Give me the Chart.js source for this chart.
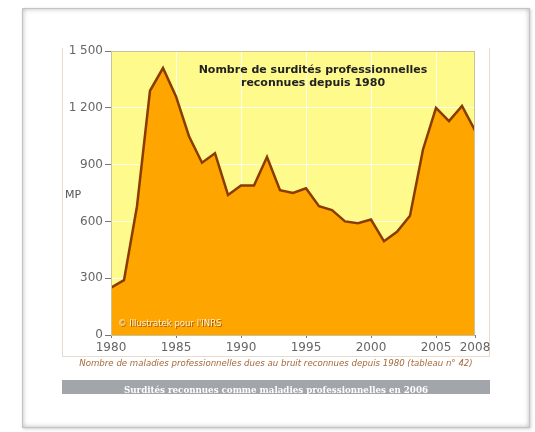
<!DOCTYPE html>
<html>
<head>
<meta charset="utf-8">
<script src="https://cdn.jsdelivr.net/npm/chart.js@4"></script>
<style>
  body { margin: 0; background: #fff; width: 535px; height: 432px; overflow: hidden; position: relative; font-family: "DejaVu Sans", Verdana, sans-serif; }
  #card { position: absolute; left: 22px; top: 8px; width: 506px; height: 418px; border: 1px solid #c4c4c4; box-shadow: inset 0 0 5px rgba(0,0,0,0.28), 1px 1px 3px rgba(0,0,0,0.2); background: #fff; }
  #frame { position: absolute; left: 62px; top: 48px; width: 426px; height: 308px; border: 1px solid #eadbcd; border-top: none; }
  #wrap { position: absolute; left: 0; top: 0; width: 535px; height: 432px; }
  #caption { position: absolute; left: 52px; width: 448px; top: 358px; text-align: center; font-style: italic; font-size: 8.6px; color: #a6683c; white-space: nowrap; }
  #bar { position: absolute; left: 62px; top: 380px; width: 428px; height: 14px; background: #a2a5aa; overflow: hidden; text-align: center; }
  #bar span { display: block; margin-top: 5px; color: #fff; font-weight: bold; font-family: "DejaVu Serif", Georgia, serif; font-size: 8.7px; white-space: nowrap; }
</style>
</head>
<body>
<div id="card"></div>
<div id="frame"></div>
<div id="wrap"><canvas id="chart" width="535" height="432"></canvas></div>
<div id="caption">Nombre de maladies professionnelles dues au bruit reconnues depuis 1980 (tableau n° 42)</div>
<div id="bar"><span>Surdités reconnues comme maladies professionnelles en 2006</span></div>
<script>
// ─── DATA ───────────────────────────────────────────────────────────────────────
var years = [1980, 1981, 1982, 1983, 1984, 1985, 1986, 1987, 1988, 1989,
             1990, 1991, 1992, 1993, 1994, 1995, 1996, 1997, 1998, 1999,
             2000, 2001, 2002, 2003, 2004, 2005, 2006, 2007, 2008];
var cases = [250, 290, 680, 1290, 1410, 1260, 1050, 910, 960, 740,
             790, 790, 940, 765, 750, 775, 680, 660, 600, 590,
             610, 495, 545, 630, 980, 1200, 1130, 1210, 1080];
var xTicks = [1980, 1985, 1990, 1995, 2000, 2005, 2008];
var yTicks = [0, 300, 600, 900, 1200, 1500];
var chartTitle = ["Nombre de surdités professionnelles", "reconnues depuis 1980"];
var yLabel = "MP";
var credit = "© Illustratek pour l'INRS";

// ─── DRAWING HELPERS ────────────────────────────────────────────────────────────
var decorations = {
    id: 'decorations',
    beforeDraw: function (chart) {
        var a = chart.chartArea, ctx = chart.ctx;
        ctx.save();
        ctx.fillStyle = '#fffa8c';
        ctx.fillRect(a.left, a.top, a.right - a.left, a.bottom - a.top);
        ctx.restore();
    },
    afterDatasetsDraw: function (chart) {
        var a = chart.chartArea, ctx = chart.ctx;
        ctx.save();
        // plot border
        ctx.strokeStyle = '#c9c39a';
        ctx.lineWidth = 1;
        ctx.strokeRect(a.left + 0.5, a.top + 0.5, a.right - a.left - 1, a.bottom - a.top);
        // title inside the plot
        ctx.fillStyle = '#222';
        ctx.font = 'bold 11px "DejaVu Sans"';
        ctx.textAlign = 'center';
        ctx.textBaseline = 'middle';
        var cx = (a.left + a.right) / 2 + 20;
        ctx.fillText(chartTitle[0], cx, a.top + 19);
        ctx.fillText(chartTitle[1], cx, a.top + 32);
        // credit
        ctx.font = '8.5px "DejaVu Sans"';
        ctx.textAlign = 'left';
        ctx.fillStyle = 'rgba(110,55,0,0.7)';
        ctx.fillText(credit, a.left + 8, a.bottom - 10);
        ctx.fillStyle = '#fff0d6';
        ctx.fillText(credit, a.left + 7, a.bottom - 11);
        // y label
        ctx.fillStyle = '#555';
        ctx.font = '11px "DejaVu Sans"';
        ctx.fillText(yLabel, 65, 195);
        ctx.restore();
    }
};

function spaced(v) {
    return String(v).replace(/\B(?=(\d{3})+(?!\d))/g, ' ');
}

var ctx = document.getElementById('chart').getContext('2d');
var chart = new Chart(ctx, {
    type: 'line',
    data: {
        datasets: [{
            data: years.map(function (y, i) { return { x: y, y: cases[i] }; }),
            borderColor: '#8a3c00',
            backgroundColor: '#ffa500',
            borderWidth: 2.5,
            fill: 'origin',
            pointRadius: 0,
            tension: 0
        }]
    },
    options: {
        responsive: false,
        animation: false,
        layout: { padding: { top: 51, right: 60, bottom: 77, left: 0 } },
        plugins: { legend: { display: false }, tooltip: { enabled: false } },
        scales: {
            x: {
                type: 'linear',
                min: 1980,
                max: 2008,
                afterBuildTicks: function (scale) {
                    scale.ticks = xTicks.map(function (v) { return { value: v }; });
                },
                afterFit: function (scale) { scale.height = 20; },
                ticks: {
                    color: '#666',
                    font: { size: 12, family: 'DejaVu Sans' },
                    padding: 3,
                    maxRotation: 0,
                    autoSkip: false,
                    callback: function (v) { return String(v); }
                },
                grid: { color: 'rgba(255,255,255,0.85)', tickColor: '#777', tickLength: 3, lineWidth: 1 },
                border: { color: '#777' }
            },
            y: {
                min: 0,
                max: 1500,
                afterBuildTicks: function (scale) {
                    scale.ticks = yTicks.map(function (v) { return { value: v }; });
                },
                afterFit: function (scale) { scale.width = 111; },
                ticks: {
                    color: '#666',
                    font: { size: 12, family: 'DejaVu Sans' },
                    padding: 2,
                    callback: function (v) { return spaced(v); }
                },
                grid: { color: 'rgba(255,255,255,0.85)', tickColor: '#777', tickLength: 6, lineWidth: 1 },
                border: { color: '#777' }
            }
        }
    },
    plugins: [decorations]
});
</script>
</body>
</html>
